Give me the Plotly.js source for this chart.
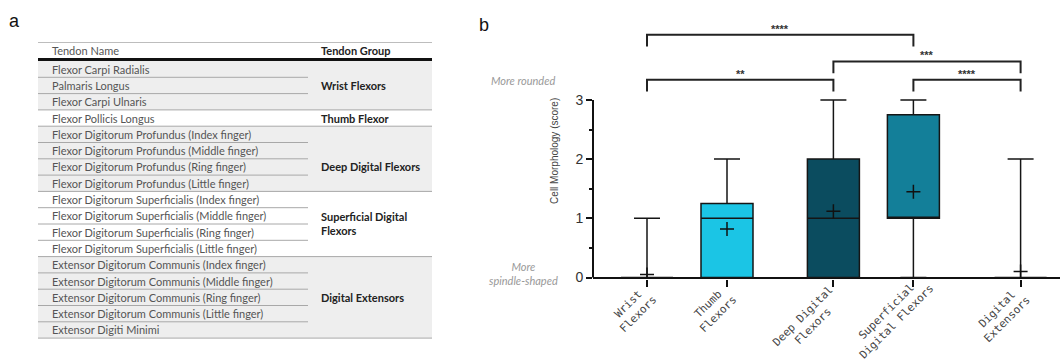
<!DOCTYPE html>
<html><head><meta charset="utf-8">
<script src="https://cdn.plot.ly/plotly-3.0.1.min.js"></script>
<style>html,body{margin:0;padding:0;background:#fff}#chart{width:1063px;height:361px}</style>
</head><body><div id="chart"></div>
<script>
// ---------- Panel a: table data ----------
const tableHeader = ['Tendon Name', 'Tendon Group'];
const tendonNames = [
  'Flexor Carpi Radialis', 'Palmaris Longus', 'Flexor Carpi Ulnaris',
  'Flexor Pollicis Longus',
  'Flexor Digitorum Profundus (Index finger)', 'Flexor Digitorum Profundus (Middle finger)',
  'Flexor Digitorum Profundus (Ring finger)', 'Flexor Digitorum Profundus (Little finger)',
  'Flexor Digitorum Superficialis (Index finger)', 'Flexor Digitorum Superficialis (Middle finger)',
  'Flexor Digitorum Superficialis (Ring finger)', 'Flexor Digitorum Superficialis (Little finger)',
  'Extensor Digitorum Communis (Index finger)', 'Extensor Digitorum Communis (Middle finger)',
  'Extensor Digitorum Communis (Ring finger)', 'Extensor Digitorum Communis (Little finger)',
  'Extensor Digiti Minimi'
];
const groupLabels = ['Wrist Flexors', 'Thumb Flexor', 'Deep Digital Flexors', 'Superficial Digital<br>Flexors', 'Digital Extensors'];
const groupSizes = [3, 1, 4, 4, 5];

// ---------- Panel b: box plot data ----------
const categories = ['Wrist<br>Flexors', 'Thumb<br>Flexors', 'Deep Digital<br>Flexors', 'Superficial<br>Digital Flexors', 'Digital<br>Extensors'];
const lowerFence = [0, 0, 0, 0, 0];
const q1 = [0, 0, 0, 1, 0];
const median = [0, 1, 1, 1, 0];
const q3 = [0, 1.25, 2, 2.75, 0];
const upperFence = [1, 2, 3, 3, 2];
const means = [0.05, 0.82, 1.12, 1.45, 0.1];
const yTickVals = [0, 1, 2, 3];
const comparisons = [[0, 3, '****'], [0, 2, '**'], [2, 4, '***'], [3, 4, '****']];

// ---------- layout constants (positions / styles) ----------
const W = 1063, H = 361;
const px = x => x / W, py = y => 1 - y / H;
const slotPos = [0, 1, 2.33, 3.33, 4.67];
const labelNudge = [0, 0, 0, 16, 0];   // px shift of rotated labels along their text direction
const boxColors = ['#ffffff', '#1bc5e5', '#0b4c5f', '#137f99', '#ffffff'];
const bracketLevel = [4.10, 3.34, 3.65, 3.34];
const tipDrop = 0.2;

const shapes = [], annotations = [];

// ---- table drawing ----
const tL = 38, tR = 432, tMid = 308, rowTop0 = 61, rowH = 16.3;
const rowTop = i => rowTop0 + i * rowH;
let start = 0;
groupSizes.forEach((n, g) => {
  if (g % 2 === 0) {
    shapes.push({type: 'rect', xref: 'paper', yref: 'paper', layer: 'below',
      x0: px(tL), x1: px(tR), y0: py(rowTop(start)), y1: py(rowTop(start + n)),
      fillcolor: '#eeeeee', line: {width: 0}});
  }
  for (let k = 1; k < n; k++) {
    shapes.push({type: 'line', xref: 'paper', yref: 'paper',
      x0: px(tL), x1: px(tMid), y0: py(rowTop(start + k)), y1: py(rowTop(start + k)),
      line: {color: '#a8a8a8', width: 1}});
  }
  shapes.push({type: 'line', xref: 'paper', yref: 'paper',
    x0: px(tL), x1: px(tR), y0: py(rowTop(start + n)), y1: py(rowTop(start + n)),
    line: {color: '#a8a8a8', width: 1}});
  const lines = groupLabels[g].split('<br>').length;
  const cy = rowTop(start + Math.floor(n / 2)) + rowH / 2 - (lines - 1) * rowH / 2;
  annotations.push({xref: 'paper', yref: 'paper', x: px(319), y: py(cy), xanchor: 'left', yanchor: 'middle',
    text: '<b>' + groupLabels[g] + '</b>', showarrow: false, align: 'left',
    font: {family: 'Lato', size: 11, color: '#222'}});
  start += n;
});
shapes.push({type: 'line', xref: 'paper', yref: 'paper', x0: px(tL), x1: px(tR), y0: py(42.5), y1: py(42.5), line: {color: '#bdbdbd', width: 1}});
shapes.push({type: 'line', xref: 'paper', yref: 'paper', x0: px(tL), x1: px(tR), y0: py(59.5), y1: py(59.5), line: {color: '#111', width: 3}});
annotations.push({xref: 'paper', yref: 'paper', x: px(50), y: py(51), xanchor: 'left', yanchor: 'middle',
  text: tableHeader[0], showarrow: false, font: {family: 'Lato', size: 11, color: '#555'}});
annotations.push({xref: 'paper', yref: 'paper', x: px(319), y: py(51), xanchor: 'left', yanchor: 'middle',
  text: '<b>' + tableHeader[1] + '</b>', showarrow: false, font: {family: 'Lato', size: 11, color: '#222'}});
tendonNames.forEach((name, i) => {
  annotations.push({xref: 'paper', yref: 'paper', x: px(50), y: py(rowTop(i) + rowH / 2), xanchor: 'left', yanchor: 'middle',
    text: name, showarrow: false, font: {family: 'Lato', size: 11, color: '#555'}});
});

// panel letters
annotations.push({xref: 'paper', yref: 'paper', x: px(7), y: py(21), xanchor: 'left', yanchor: 'middle',
  text: 'a', showarrow: false, font: {family: 'Liberation Sans', size: 18, color: '#111'}});
annotations.push({xref: 'paper', yref: 'paper', x: px(477), y: py(25), xanchor: 'left', yanchor: 'middle',
  text: 'b', showarrow: false, font: {family: 'Liberation Sans', size: 18, color: '#111'}});

// side notes
annotations.push({xref: 'paper', yref: 'paper', x: px(523), y: py(80), xanchor: 'center', yanchor: 'middle',
  text: '<i>More rounded</i>', showarrow: false, font: {family: 'Lato', size: 11, color: '#999'}});
annotations.push({xref: 'paper', yref: 'paper', x: px(523), y: py(273), xanchor: 'center', yanchor: 'middle',
  text: '<i>More<br>spindle-shaped</i>', showarrow: false, font: {family: 'Lato', size: 11, color: '#999'}});

// y axis line from 0 to 3
shapes.push({type: 'line', xref: 'paper', yref: 'y', x0: px(593), x1: px(593), y0: 0, y1: 3,
  line: {color: '#111', width: 2}});

// significance brackets
comparisons.forEach((c, k) => {
  const xa = slotPos[c[0]], xb = slotPos[c[1]], lv = bracketLevel[k];
  shapes.push({type: 'path', xref: 'x', yref: 'y',
    path: `M ${xa},${lv - tipDrop} L ${xa},${lv} L ${xb},${lv} L ${xb},${lv - tipDrop}`,
    line: {color: '#222', width: 2}});
  annotations.push({xref: 'x', yref: 'y', x: (xa + xb) / 2, y: lv, yanchor: 'middle', yshift: 6,
    text: '<b>' + c[2] + '</b>', showarrow: false, font: {family: 'Liberation Sans', size: 11, color: '#333'}});
});

// rotated category labels (centre-aligned two-line blocks, right end at the tick)
const labFont = 11, charW = 0.602 * labFont, endY = 293;
categories.forEach((lab, i) => {
  const w = Math.max(...lab.split('<br>').map(s => s.length)) * charW;
  const d = 0.3536 * w, n = labelNudge[i] * 0.7071;
  annotations.push({xref: 'x', yref: 'paper', x: slotPos[i], xshift: 2 - d + n, y: py(endY + d - n),
    xanchor: 'center', yanchor: 'middle', textangle: -45, align: 'center', showarrow: false,
    text: lab, font: {family: 'DejaVu Sans Mono', size: labFont, color: '#444'}});
});

// ---- traces ----
const traces = categories.map((c, i) => ({
  type: 'box', x: [slotPos[i]], q1: [q1[i]], median: [median[i]], q3: [q3[i]],
  lowerfence: [lowerFence[i]], upperfence: [upperFence[i]],
  width: 0.65, whiskerwidth: 0.5, fillcolor: boxColors[i],
  line: {color: '#151515', width: 1.5}, boxpoints: false, hoverinfo: 'skip', showlegend: false
}));
traces.push({type: 'scatter', mode: 'markers', x: slotPos, y: means, showlegend: false, hoverinfo: 'skip',
  marker: {symbol: 'cross-thin', size: 10, color: '#111', line: {width: 1.5, color: '#111'}}});

const y0px = 277.5, unit = 59.2, yMin = -0.02, yMax = 4.3;
const botPx = y0px - yMin * unit, topPx = y0px - yMax * unit;

const layout = {
  width: W, height: H, margin: {l: 0, r: 0, t: 0, b: 0},
  paper_bgcolor: '#fff', plot_bgcolor: 'rgba(0,0,0,0)', showlegend: false, boxmode: 'overlay',
  xaxis: {domain: [px(593), px(1060)], range: [-0.675, 5.1625], showgrid: false, zeroline: false, showline: false,
    tickmode: 'array', tickvals: slotPos, showticklabels: false,
    ticks: 'outside', ticklen: 7, tickwidth: 2, tickcolor: '#111', automargin: false},
  yaxis: {domain: [py(botPx), py(topPx)], range: [yMin, yMax], showgrid: false, showline: false,
    zeroline: true, zerolinecolor: '#111', zerolinewidth: 2,
    tickmode: 'array', tickvals: yTickVals, ticks: 'outside', ticklen: 6, tickwidth: 2, tickcolor: '#111',
    minor: {tickmode: 'array', tickvals: [0.5, 1.5, 2.5], ticks: 'outside', ticklen: 3, tickwidth: 2, tickcolor: '#111', showgrid: false},
    tickfont: {family: 'Liberation Sans', size: 14, color: '#333'}, automargin: false,
    title: {text: 'Cell Morphology (score)', font: {family: 'Liberation Sans', size: 10, color: '#444'}, standoff: 14}},
  shapes: shapes, annotations: annotations
};
Plotly.newPlot('chart', traces, layout, {displayModeBar: false, staticPlot: true});
</script></body></html>
